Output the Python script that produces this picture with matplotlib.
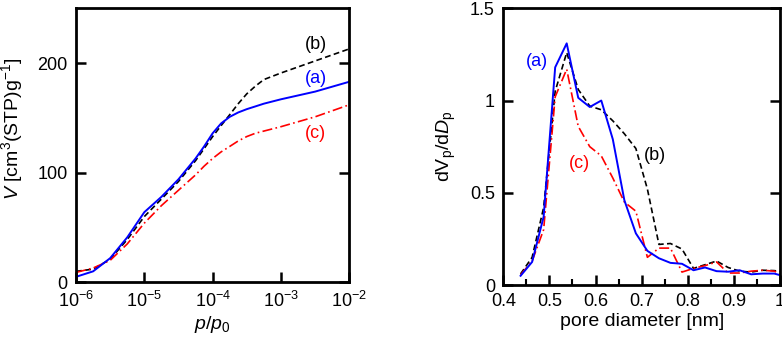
#!/usr/bin/env python3
"""Adsorption isotherms (left) and pore size distributions (right)."""
import numpy as np
import matplotlib
matplotlib.use('Agg')
import matplotlib.pyplot as plt
from matplotlib.ticker import FixedLocator, MultipleLocator, FuncFormatter

# left panel: isotherms, p/p0 vs V [cm3(STP)/g]
p_rel = [1.0e-6, 1.78e-6, 3.16e-6, 5.62e-6, 1.0e-5, 1.78e-5, 3.16e-5, 5.62e-5,
         7.5e-5, 1.0e-4, 1.33e-4, 1.78e-4, 2.37e-4, 3.16e-4, 4.22e-4, 5.62e-4,
         1.0e-3, 3.16e-3, 1.0e-2]
V_a = [5, 10, 22, 41, 64, 78, 94, 113, 124, 136, 145, 151, 155, 158, 160.5, 163, 167, 174, 183]
V_b = [10, 12, 21, 39, 60, 76, 92, 111, 122, 133, 143, 153, 163, 172, 179, 185, 191, 202, 213]
V_c = [9, 13, 20, 35, 54, 70, 84, 98, 106, 113, 119, 124, 129, 133, 136, 138, 142, 151, 162]

# right panel: pore size distribution dVp/dDp
d_pore = [0.4375, 0.4625, 0.4875, 0.5125, 0.5375, 0.5625, 0.5875, 0.6125,
          0.6375, 0.6625, 0.6875, 0.7125, 0.7375, 0.7625, 0.7875, 0.8125,
          0.8375, 0.8625, 0.8875, 0.9125, 0.9375, 0.9625, 0.9875, 1.0125]
psd_a = [0.05, 0.125, 0.37, 1.18, 1.31, 1.015, 0.965, 1.0, 0.79, 0.46, 0.28, 0.185,
         0.145, 0.12, 0.115, 0.08, 0.095, 0.075, 0.072, 0.08, 0.058, 0.062, 0.062, 0.045]
psd_b = [0.06, 0.15, 0.42, 1.05, 1.26, 1.06, 0.97, 0.95, 0.89, 0.82, 0.74, 0.52,
         0.22, 0.225, 0.195, 0.09, 0.11, 0.13, 0.095, 0.075, 0.07, 0.08, 0.078, 0.07]
psd_c = [0.055, 0.13, 0.3, 1.02, 1.17, 0.86, 0.75, 0.7, 0.58, 0.45, 0.4, 0.15,
         0.2, 0.2, 0.07, 0.09, 0.105, 0.125, 0.065, 0.065, 0.075, 0.08, 0.075, 0.05]

BLUE = '#0000ff'
RED = '#ff0000'
BLACK = '#000000'


def setup():
    plt.rcParams.update({
        'font.family': 'Liberation Sans',
        'font.size': 13,
        'axes.labelsize': 14,
        'mathtext.fontset': 'custom',
        'mathtext.rm': 'Liberation Sans',
        'mathtext.it': 'Liberation Sans:italic',
        'mathtext.bf': 'Liberation Sans:bold',
        'axes.linewidth': 2.0,
        'xtick.direction': 'in',
        'ytick.direction': 'in',
        'xtick.major.size': 7,
        'ytick.major.size': 7,
        'xtick.major.width': 1.8,
        'ytick.major.width': 1.8,
        'xtick.minor.size': 4,
        'xtick.minor.width': 1.5,
        'xtick.major.pad': 6,
        'ytick.major.pad': 6,
    })


def main():
    setup()
    fig = plt.figure(figsize=(7.82, 3.38), dpi=100, facecolor='white')
    ax1 = fig.add_axes([0.0972, 0.1648, 0.3495, 0.8106])
    ax2 = fig.add_axes([0.6436, 0.1568, 0.3538, 0.8186])

    # left: isotherms
    ax1.plot(p_rel, V_b, color=BLACK, lw=1.2, ls=(0, (3.5, 2)))
    ax1.plot(p_rel, V_c, color=RED, lw=1.2, ls=(0, (6, 2, 1, 2)))
    ax1.plot(p_rel, V_a, color=BLUE, lw=1.4)
    ax1.set_xscale('log')
    ax1.set_xlim(1e-6, 1e-2)
    ax1.set_ylim(0, 250)
    ax1.xaxis.set_major_locator(FixedLocator([1e-6, 1e-5, 1e-4, 1e-3, 1e-2]))
    ax1.xaxis.set_minor_locator(FixedLocator([]))
    ax1.set_yticks([0, 100, 200])
    ax1.tick_params(axis='y', right=True)
    ax1.set_xlabel('$p$/$p_0$', labelpad=2)
    ax1.set_ylabel('$V$ [cm$^3$(STP)g$^{-1}$]')
    ax1.yaxis.set_label_coords(-0.188, 0.56)
    ax1.text(3.2e-3, 217, '(b)', color=BLACK, ha='center', va='center')
    ax1.text(3.2e-3, 186, '(a)', color=BLUE, ha='center', va='center')
    ax1.text(3.2e-3, 136, '(c)', color=RED, ha='center', va='center')

    # right: pore size distributions
    ax2.plot(d_pore, psd_b, color=BLACK, lw=1.2, ls=(0, (3.5, 2)))
    ax2.plot(d_pore, psd_c, color=RED, lw=1.2, ls=(0, (6, 2, 1, 2)))
    ax2.plot(d_pore, psd_a, color=BLUE, lw=1.4)
    ax2.set_xlim(0.4, 1.0)
    ax2.set_ylim(0, 1.5)
    ax2.xaxis.set_major_locator(MultipleLocator(0.1))
    ax2.xaxis.set_minor_locator(MultipleLocator(0.05))
    ax2.yaxis.set_major_locator(MultipleLocator(0.5))
    fmt = FuncFormatter(lambda v, pos: f'{v:g}')
    ax2.xaxis.set_major_formatter(fmt)
    ax2.yaxis.set_major_formatter(fmt)
    ax2.tick_params(axis='y', right=True)
    ax2.set_xlabel('pore diameter [nm]', labelpad=2)
    ax2.set_ylabel('dV$_\\mathrm{p}$/d$D_\\mathrm{p}$')
    ax2.yaxis.set_label_coords(-0.165, 0.5)
    ax2.text(0.4724, 1.21, '(a)', color=BLUE, ha='center', va='center')
    ax2.text(0.729, 0.70, '(b)', color=BLACK, ha='center', va='center')
    ax2.text(0.566, 0.66, '(c)', color=RED, ha='center', va='center')

    fig.savefig('out.png', dpi=100)
    plt.close(fig)


if __name__ == '__main__':
    main()
